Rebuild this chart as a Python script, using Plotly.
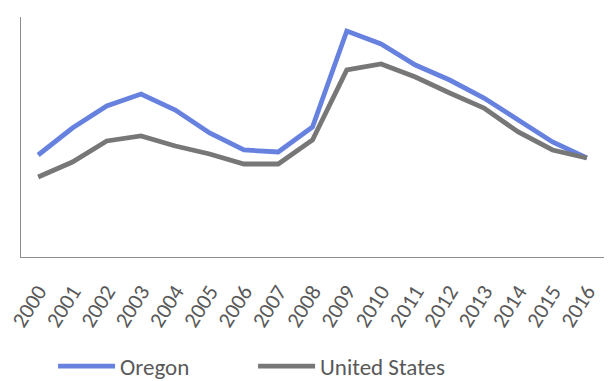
import plotly.graph_objects as go

years = [str(y) for y in range(2000, 2017)]
oregon = [5.1, 6.45, 7.55, 8.15, 7.35, 6.2, 5.35, 5.25, 6.5, 11.3, 10.65, 9.6, 8.85, 7.95, 6.85, 5.75, 4.95]
united_states = [4.0, 4.75, 5.8, 6.05, 5.55, 5.15, 4.65, 4.65, 5.85, 9.35, 9.65, 9.0, 8.2, 7.45, 6.25, 5.35, 4.95]

font_family = "Carlito, Lato, 'Open Sans', sans-serif"

fig = go.Figure()
fig.add_trace(go.Scatter(x=years, y=oregon, name="Oregon", mode="lines",
                         line=dict(color="#6781DF", width=4.8)))
fig.add_trace(go.Scatter(x=years, y=united_states, name="United States", mode="lines",
                         line=dict(color="#777777", width=4.8)))

fig.update_layout(
    width=610, height=381,
    margin=dict(l=21, r=6, t=17, b=124, autoexpand=False),
    paper_bgcolor="white", plot_bgcolor="white",
    font=dict(family=font_family, color="#595959"),
    showlegend=True,
    legend=dict(orientation="h", x=0.055, xanchor="left", y=-0.455, yanchor="middle",
                font=dict(size=23, color="#595959"), entrywidth=128, entrywidthmode="pixels",
                itemwidth=57),
    xaxis=dict(type="category", showgrid=False, showline=True, linecolor="#8c8c8c",
               linewidth=1, ticks="", tickangle=-58, tickfont=dict(size=22, color="#595959"),
               range=[-0.5, len(years) - 0.5], automargin=False, ticklabelstandoff=12),
    yaxis=dict(range=[0, 12], showgrid=False, showline=True, linecolor="#8c8c8c",
               linewidth=1, showticklabels=False, ticks="", zeroline=False, automargin=False),
)

fig.write_html("out.html")
